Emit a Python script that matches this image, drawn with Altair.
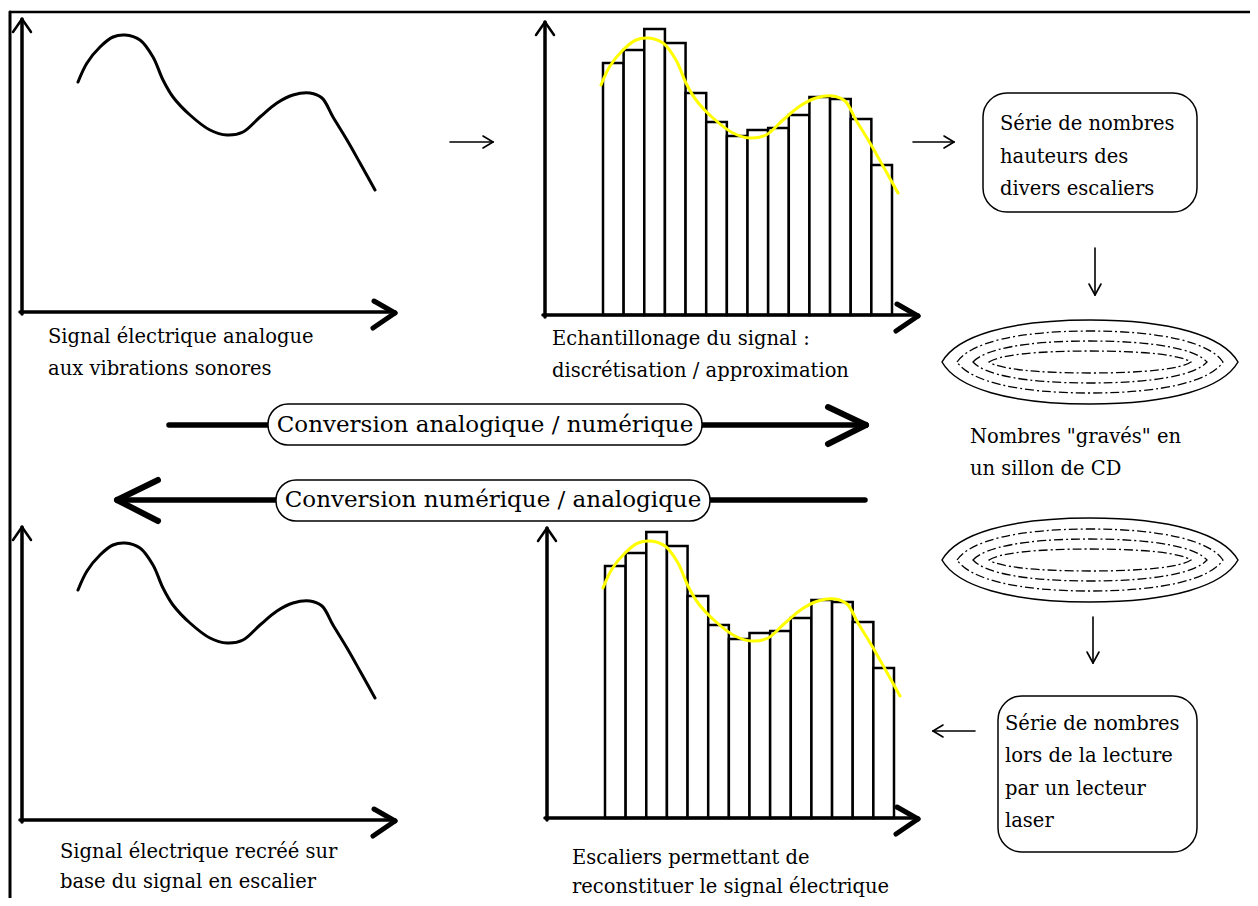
import altair as alt
import pandas as pd

# ---------------- data ----------------
# analogue signal: time offset from the y-axis and height above the x-axis (px units)
SIGNAL_T = [56, 65, 78, 91, 103, 118, 131, 141, 151, 168, 188, 205, 221, 238, 255, 271, 288, 300, 311, 325, 338, 353]
SIGNAL_V = [230, 249, 265, 275, 277, 272, 255, 232, 215, 197, 182, 177, 180, 195, 209, 217, 219, 214, 195, 172, 149, 122]
# heights of the 14 sampled "stairs"
SAMPLE_HEIGHTS = [252, 265, 286, 272, 222, 193, 179, 185, 187, 200, 218, 216, 196, 150]

LABELS = [
    "Signal électrique analogue", "aux vibrations sonores",
    "Echantillonage du signal :", "discrétisation / approximation",
    "Série de nombres", "hauteurs des", "divers escaliers",
    'Nombres "gravés" en', "un sillon de CD",
    "Signal électrique recréé sur", "base du signal en escalier",
    "Escaliers permettant de", "reconstituer le signal électrique",
    "Série de nombres", "lors de la lecture", "par un lecteur", "laser",
]
CONVERSIONS = ["Conversion analogique / numérique", "Conversion numérique / analogique"]

# ---------------- layout ----------------
LABEL_POS = [(48, 343), (48, 375), (552, 345), (552, 377),
             (1000, 130), (1000, 163), (1000, 195),
             (970, 443), (970, 475),
             (60, 858), (60, 888), (572, 864), (572, 893),
             (1005, 730), (1005, 762), (1005, 795), (1005, 827)]
CONV_POS = [(485, 425), (493, 500)]

CURVE_ORIGINS = [(22, 312), (22, 820)]
BAR_ORIGINS = [(545, 315), (547, 818)]
BAR_START, BAR_SPAN = 58, 289

XS = alt.Scale(domain=[8, 1250], nice=False, zero=False)
YS = alt.Scale(domain=[8, 898], nice=False, zero=False, reverse=True)

def X(f="x"):
    return alt.X(f"{f}:Q", scale=XS, axis=None)

def Y(f="y"):
    return alt.Y(f"{f}:Q", scale=YS, axis=None)

# ---------------- line segments (frame, axes, arrows) ----------------
segs = []
def seg(x1, y1, x2, y2, w):
    segs.append(dict(x=x1, y=y1, x2=x2, y2=y2, w=w))

seg(10, 12, 1253, 12, 2.5)
seg(10, 12, 10, 906, 3)
axes = [(22, 312, 19, 395), (545, 315, 22, 918), (22, 820, 527, 395), (547, 818, 528, 918)]
for ox, oy, top, xe in axes:
    seg(ox, top, ox, oy + 2, 3.5)
    seg(ox - 2, oy, xe - 3, oy, 3.5)
    seg(ox - 9, top + 13, ox, top, 2.5)
    seg(ox, top, ox + 9, top + 13, 2.5)
    seg(xe - 21, oy - 11, xe, oy + 1, 5)
    seg(xe - 22, oy + 16, xe, oy + 1, 5)

# conversion arrows
seg(169, 425, 862, 425, 5.5)
seg(828, 407, 866, 425, 6)
seg(828, 444, 866, 425, 6)
seg(118, 500, 865, 500, 5.5)
seg(158, 480, 117, 500, 6)
seg(158, 521, 117, 500, 6)

# small arrows
for (x1, y1, x2, y2) in [(450, 142, 493, 142), (913, 142, 954, 142), (975, 731, 933, 731)]:
    d = 10 if x2 > x1 else -10
    seg(x1, y1, x2, y2, 1.6)
    seg(x2 - d, y2 - 6, x2, y2, 1.6)
    seg(x2 - d, y2 + 6, x2, y2, 1.6)
for (x1, y1, y2) in [(1095, 248, 295), (1093, 617, 663)]:
    seg(x1, y1, x1, y2, 1.6)
    seg(x1 - 6, y2 - 11, x1, y2, 1.6)
    seg(x1 + 6, y2 - 11, x1, y2, 1.6)

seg_df = pd.DataFrame(segs)
rules = alt.Chart(seg_df).mark_rule(color="black", strokeCap="round").encode(
    x=X(), y=Y(), x2="x2:Q", y2="y2:Q",
    strokeWidth=alt.StrokeWidth("w:Q", scale=None),
)

# ---------------- bars ----------------
bar_rows = []
bw = BAR_SPAN / len(SAMPLE_HEIGHTS)
for p, (ox, oy) in enumerate(BAR_ORIGINS):
    for i, h in enumerate(SAMPLE_HEIGHTS):
        bar_rows.append(dict(panel=p, i=i, h=h, ox=ox, oy=oy))
bar_df = pd.DataFrame(bar_rows)
bars = alt.Chart(bar_df).transform_calculate(
    x=f"datum.ox + {BAR_START} + datum.i * {bw}",
    x2=f"datum.ox + {BAR_START} + (datum.i + 1) * {bw}",
    y="datum.oy - datum.h",
    y2="datum.oy",
).mark_rect(fill="white", stroke="black", strokeWidth=2.5).encode(
    x=X(), x2="x2:Q", y=Y(), y2="y2:Q"
)

# ---------------- curves ----------------
def curve_df(origins):
    rows = []
    for p, (ox, oy) in enumerate(origins):
        for k, (t, v) in enumerate(zip(SIGNAL_T, SIGNAL_V)):
            rows.append(dict(panel=p, k=k, t=t, v=v, ox=ox, oy=oy))
    return pd.DataFrame(rows)

def curve(origins, color):
    return alt.Chart(curve_df(origins)).transform_calculate(
        x="datum.ox + datum.t", y="datum.oy - datum.v"
    ).mark_line(color=color, strokeWidth=3, interpolate="catmull-rom", strokeCap="round").encode(
        x=X(), y=Y(), detail="panel:N", order="k:Q"
    )

black_curves = curve(CURVE_ORIGINS, "black")
yellow_curves = curve(BAR_ORIGINS, "#ffff00")

# ---------------- pills & boxes ----------------
pill_df = pd.DataFrame(dict(x=[268, 276], x2=[702, 710], y=[404, 480], y2=[445, 521]))
pills = alt.Chart(pill_df).mark_rect(fill="white", stroke="black", strokeWidth=1.5, cornerRadius=20).encode(
    x=X(), x2="x2:Q", y=Y(), y2="y2:Q")
box_df = pd.DataFrame(dict(x=[983, 998], x2=[1197, 1197], y=[93, 696], y2=[212, 852]))
boxes = alt.Chart(box_df).mark_rect(fill="white", stroke="black", strokeWidth=1.5, cornerRadius=24).encode(
    x=X(), x2="x2:Q", y=Y(), y2="y2:Q")

# ---------------- CD grooves (ellipses) ----------------
def lens(rx, ry):
    k = ry / rx
    return (f"M -1 0 C -0.9 {-0.62*k:.4f} -0.55 {-k:.4f} 0 {-k:.4f} "
            f"C 0.55 {-k:.4f} 0.9 {-0.62*k:.4f} 1 0 "
            f"C 0.9 {0.62*k:.4f} 0.55 {k:.4f} 0 {k:.4f} "
            f"C -0.55 {k:.4f} -0.9 {0.62*k:.4f} -1 0 Z")

GROOVES = [(148, 42), (133, 31), (117, 21), (101, 11)]
ell_rows = []
for cy in (362, 560):
    for j, (rx, ry) in enumerate(GROOVES):
        ell_rows.append(dict(x=1090, y=cy, shape=lens(rx, ry), size=(2 * rx) ** 2, solid=(j == 0)))
ell_df = pd.DataFrame(ell_rows)
ell_solid = alt.Chart(ell_df[ell_df.solid]).mark_point(
    filled=False, stroke="black", strokeWidth=1.5, opacity=1).encode(
    x=X(), y=Y(), shape=alt.Shape("shape:N", scale=None), size=alt.Size("size:Q", scale=None))
ell_dash = alt.Chart(ell_df[~ell_df.solid]).mark_point(
    filled=False, stroke="black", strokeWidth=1.3, opacity=1, strokeDash=[9, 3, 2, 3]).encode(
    x=X(), y=Y(), shape=alt.Shape("shape:N", scale=None), size=alt.Size("size:Q", scale=None))

# ---------------- texts ----------------
lab_df = pd.DataFrame(dict(text=LABELS, x=[p[0] for p in LABEL_POS], y=[p[1] for p in LABEL_POS]))
labels = alt.Chart(lab_df).mark_text(
    font="DejaVu Serif", fontSize=19.5, align="left", baseline="alphabetic", color="black").encode(
    x=X(), y=Y(), text="text:N")
conv_df = pd.DataFrame(dict(text=CONVERSIONS, x=[p[0] for p in CONV_POS], y=[p[1] for p in CONV_POS]))
conv = alt.Chart(conv_df).mark_text(
    font="DejaVu Serif", fontSize=23, align="center", baseline="middle", color="black").encode(
    x=X(), y=Y(), text="text:N")

chart = alt.layer(
    bars, yellow_curves, black_curves, rules, pills, boxes, ell_solid, ell_dash, labels, conv
).properties(
    width=1242, height=890, padding=0, autosize=alt.AutoSizeParams(type="none"), background="white"
).configure_view(stroke=None)

chart.save("out.html", embed_options={"renderer": "svg", "actions": False})
